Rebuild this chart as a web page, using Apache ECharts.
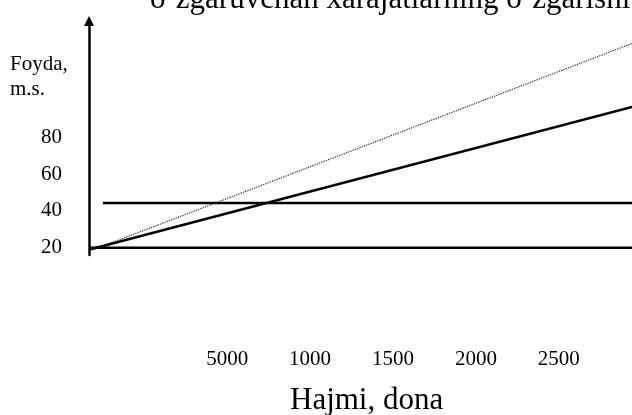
<!DOCTYPE html>
<html>
<head>
<meta charset="utf-8">
<script src="https://cdn.jsdelivr.net/npm/echarts@6/dist/echarts.min.js"></script>
<style>
  html, body { margin: 0; padding: 0; background: #fff; }
  #chart { width: 632px; height: 415px; }
</style>
</head>
<body>
<div id="chart"></div>
<script>
// tick labels (the first one is printed as "5000" in the original)
var xTickValues = [500, 1000, 1500, 2000, 2500];
var xTickLabels = ['5000', '1000', '1500', '2000', '2500'];
var yTickValues = [20, 40, 60, 80];

// lines, [hajm, foyda]
var bottomLine = [[-333, 20], [2941, 20]];
var upperLine = [[-249, 44.3], [2941, 44.3]];
var solidLine = [[-330, 19], [2941, 96.5]];
var dottedLine = [[-297, 19.2], [2941, 131]];

var serif = "'Liberation Serif', 'Times New Roman', serif";

var myChart = echarts.init(document.getElementById('chart'));

var option = {
  animation: false,
  backgroundColor: '#fff',
  grid: {
    left: 89,
    right: 0,
    top: 21,
    bottom: 160,
    outerBoundsMode: 'none'
  },
  graphic: [
    {
      type: 'text',
      left: 150,
      top: -16,
      style: {
        text: 'o‘zgaruvchan xarajatlarning o‘zgarishi',
        font: '31px ' + serif,
        fill: '#000'
      }
    },
    {
      type: 'text',
      left: 10,
      top: 52,
      style: {
        text: 'Foyda,\nm.s.',
        font: '21px ' + serif,
        lineHeight: 25,
        fill: '#000'
      }
    },
    {
      type: 'text',
      left: 290,
      top: 385,
      style: {
        text: 'Hajmi, dona',
        font: '31px ' + serif,
        fill: '#000'
      }
    }
  ],
  xAxis: {
    type: 'value',
    min: -333,
    max: 2941,
    axisLine: { show: false, onZero: false },
    axisTick: { show: false },
    splitLine: { show: false },
    axisLabel: {
      customValues: xTickValues,
      margin: 94,
      color: '#000',
      fontFamily: serif,
      fontSize: 21,
      formatter: function (v) {
        return xTickLabels[xTickValues.indexOf(v)];
      }
    }
  },
  yAxis: {
    type: 'value',
    min: 16,
    max: 143.2,
    axisLine: {
      show: true,
      onZero: false,
      symbol: ['none', 'triangle'],
      symbolSize: [10, 10],
      lineStyle: { color: '#000', width: 2.5 }
    },
    axisTick: { show: false },
    splitLine: { show: false },
    axisLabel: {
      customValues: yTickValues,
      margin: 27,
      color: '#000',
      fontFamily: serif,
      fontSize: 21
    }
  },
  series: [
    {
      type: 'line',
      data: bottomLine,
      symbol: 'none',
      lineStyle: { color: '#000', width: 2.5 }
    },
    {
      type: 'line',
      data: upperLine,
      symbol: 'none',
      lineStyle: { color: '#000', width: 2.5 }
    },
    {
      type: 'line',
      data: solidLine,
      symbol: 'none',
      lineStyle: { color: '#000', width: 2.5 }
    },
    {
      type: 'line',
      data: dottedLine,
      symbol: 'none',
      lineStyle: { color: '#222', width: 1.2, type: 'dotted' }
    }
  ]
};

myChart.setOption(option);
</script>
</body>
</html>
